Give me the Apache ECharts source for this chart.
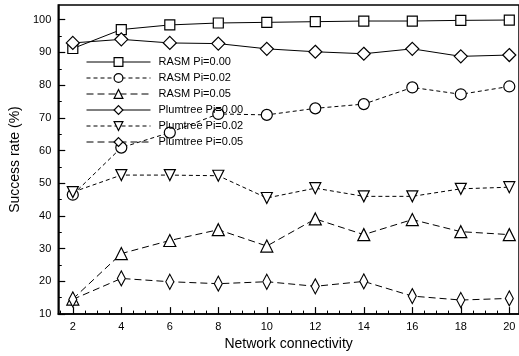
<!DOCTYPE html>
<html>
<head>
<meta charset="utf-8">
<script src="https://cdn.jsdelivr.net/npm/echarts@6/dist/echarts.min.js"></script>
<style>html,body{margin:0;padding:0;background:#fff;}#c{width:519px;height:356px;}</style>
</head>
<body>
<div id="c"></div>
<script>
const connectivity = [2, 4, 6, 8, 10, 12, 14, 16, 18, 20];
const rasm000 = [91.2, 97.0, 98.4, 99.0, 99.2, 99.4, 99.6, 99.6, 99.8, 99.9];
const rasm002 = [46.5, 60.9, 65.5, 71.2, 70.9, 72.9, 74.2, 79.3, 77.2, 79.6];
const rasm005 = [14.6, 28.5, 32.5, 35.8, 30.8, 39.1, 34.3, 38.9, 35.2, 34.3];
const plum000 = [92.9, 94.0, 92.9, 92.7, 91.1, 90.2, 89.6, 91.1, 88.8, 89.2];
const plum002 = [47.3, 52.5, 52.5, 52.3, 45.5, 48.5, 46.0, 46.0, 48.3, 48.8];
const plum005 = [14.5, 20.9, 19.9, 19.3, 19.9, 18.5, 20.0, 15.5, 14.3, 14.8];
const seriesNames = ['RASM Pi=0.00', 'RASM Pi=0.02', 'RASM Pi=0.05', 'Plumtree Pi=0.00', 'Plumtree Pi=0.02', 'Plumtree Pi=0.05'];
const xTicks = [2, 4, 6, 8, 10, 12, 14, 16, 18, 20];
const xMinorTicks = [1.5, 2.5, 3, 3.5, 4.5, 5, 5.5, 6.5, 7, 7.5, 8.5, 9, 9.5, 10.5, 11, 11.5, 12.5, 13, 13.5, 14.5, 15, 15.5, 16.5, 17, 17.5, 18.5, 19, 19.5];
const yTicks = [10, 20, 30, 40, 50, 60, 70, 80, 90, 100];
const yMinorTicks = [15, 25, 35, 45, 55, 65, 75, 85, 95];

const FONT = "'Liberation Sans', Arial, sans-serif";
const pair = arr => connectivity.map((x, i) => [x, arr[i]]);

function mk(name, data, symbol, size, dash, rotate) {
  return {
    name: name, type: 'line', data: pair(data), xAxisIndex: 0, yAxisIndex: 0,
    symbol: symbol, symbolSize: size, symbolRotate: rotate || 0,
    showAllSymbol: true, animation: false,
    lineStyle: { color: '#000', width: 1, type: dash },
    itemStyle: { color: '#fff', borderColor: '#000', borderWidth: 1.2 },
    emphasis: { disabled: true }
  };
}

const chart = echarts.init(document.getElementById('c'));
chart.setOption({
  animation: false,
  backgroundColor: '#fff',
  textStyle: { fontFamily: FONT },
  grid: { left: 54, top: 5, width: 466.6, height: 312, show: true, borderColor: '#000', borderWidth: 1.5, backgroundColor: 'transparent' },
  legend: {
    orient: 'vertical', left: 86, top: 56.5, padding: 0,
    itemWidth: 64, itemHeight: 11, itemGap: 5,
    lineStyle: { width: 1 },
    itemStyle: { borderWidth: 1.2 },
    textStyle: { fontSize: 11, color: '#000', fontFamily: FONT, padding: [0, 0, 0, 3] },
    data: seriesNames
  },
  xAxis: [{
    type: 'value', min: 1.4, max: 20.4,
    name: 'Network connectivity', nameLocation: 'middle', nameGap: 19,
    nameTextStyle: { fontSize: 14, color: '#000', fontFamily: FONT },
    axisLine: { lineStyle: { color: '#000', width: 1.5 } },
    axisTick: { inside: true, length: 7, customValues: xTicks, lineStyle: { color: '#000', width: 1.2 } },
    axisLabel: { customValues: xTicks, margin: 7, fontSize: 11, color: '#000', fontFamily: FONT },
    splitLine: { show: false }
  }, {
    type: 'value', min: 1.4, max: 20.4, position: 'bottom',
    axisLine: { show: false },
    axisTick: { inside: true, length: 3.5, customValues: xMinorTicks, lineStyle: { color: '#000', width: 1 } },
    axisLabel: { show: false },
    splitLine: { show: false }
  }],
  yAxis: [{
    type: 'value', min: 10, max: 104.5,
    name: 'Success rate (%)', nameLocation: 'middle', nameGap: 33,
    nameTextStyle: { fontSize: 14, color: '#000', fontFamily: FONT },
    axisLine: { show: true, lineStyle: { color: '#000', width: 1.5 } },
    axisTick: { show: true, inside: true, length: 7, customValues: yTicks, lineStyle: { color: '#000', width: 1.2 } },
    axisLabel: { customValues: yTicks, margin: 7, fontSize: 11, color: '#000', fontFamily: FONT },
    splitLine: { show: false }
  }, {
    type: 'value', min: 10, max: 104.5, position: 'left',
    axisLine: { show: false },
    axisTick: { show: true, inside: true, length: 3.5, customValues: yMinorTicks, lineStyle: { color: '#000', width: 1 } },
    axisLabel: { show: false },
    splitLine: { show: false }
  }],
  series: [
    mk(seriesNames[0], rasm000, 'rect', 10, 'solid'),
    mk(seriesNames[1], rasm002, 'circle', 11, [4, 3]),
    mk(seriesNames[2], rasm005, 'triangle', 12, [7, 4]),
    mk(seriesNames[3], plum000, 'diamond', [13, 13], 'solid'),
    mk(seriesNames[4], plum002, 'triangle', 11, [4, 3], 180),
    mk(seriesNames[5], plum005, 'diamond', [8, 15], [7, 4])
  ]
});
</script>
</body>
</html>
